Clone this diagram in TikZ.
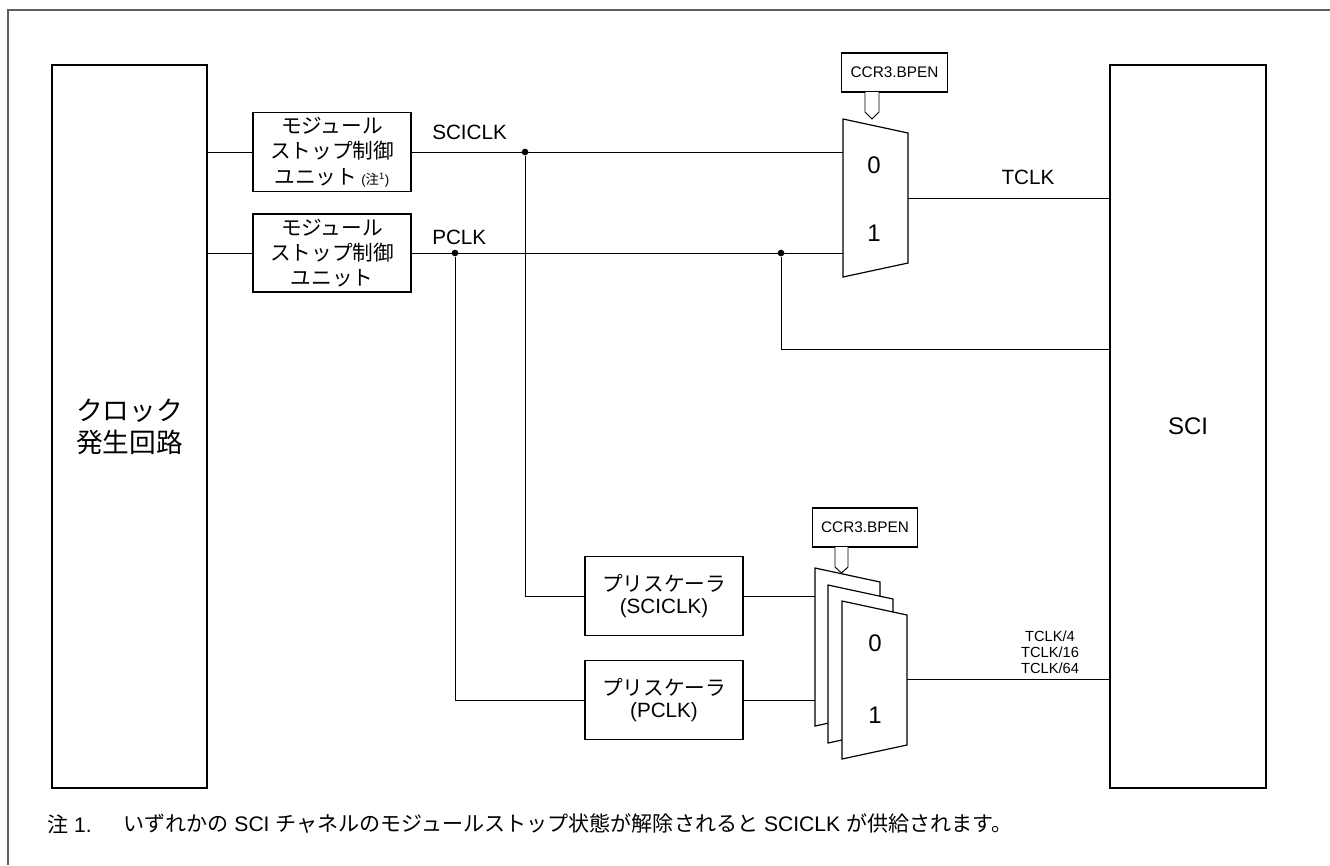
\documentclass[tikz,border=0pt]{standalone}
\usepackage{fontspec}
\setmainfont{Liberation Sans}
\newfontfamily\jp{Noto Sans CJK JP}
\begin{document}
\begin{tikzpicture}[x=0.75pt,y=-0.75pt,
  box/.style={draw, line width=0.9pt, rectangle, inner sep=0pt, fill=white, align=center},
  wire/.style={line width=0.7pt},
  dot/.style={circle, fill=black, inner sep=0pt, minimum size=5pt},
  muxshape/.style={draw, line width=0.9pt, fill=white, line join=miter},
  lbl/.style={inner sep=0pt, font=\fontsize{15.5}{19}\selectfont},
  small/.style={inner sep=0pt, font=\fontsize{11}{12}\selectfont, align=center},
  digit/.style={inner sep=0pt, font=\fontsize{18}{18}\selectfont},
  ctrl/.style={box, minimum width=79pt, minimum height=29.25pt, font=\fontsize{11.5}{12}\selectfont}
]
\useasboundingbox (0,0) rectangle (1330,865);
% outer frame
\draw[line width=1.4pt, gray!75!black] (8,865) -- (8,10) -- (1330,10);

% main blocks
\node[box, minimum width=116.25pt, minimum height=542.25pt, font=\fontsize{20}{24}\selectfont] (clk) at (129.5,426.5) {{\jp クロック}\\{\jp 発生回路}};
\node[box, minimum width=117pt, minimum height=542.25pt, font=\fontsize{18}{22}\selectfont] (sci) at (1188,426.5) {SCI};

\node[box, minimum width=118.5pt, minimum height=59.25pt, font=\fontsize{15.5}{19}\selectfont] (ms1) at (332,152) {{\jp モジュール}\\{\jp ストップ制御}\\{\jp ユニット}\hspace{3pt}{\fontsize{10}{10}\selectfont(}{\jp\fontsize{10}{10}\selectfont 注}{\fontsize{10}{10}\selectfont\textsuperscript{1})}};
\node[box, minimum width=118.5pt, minimum height=58.5pt, font=\fontsize{15.5}{19}\selectfont] (ms2) at (332,253) {{\jp モジュール}\\{\jp ストップ制御}\\{\jp ユニット}};

\node[box, minimum width=118.5pt, minimum height=59.25pt, font=\fontsize{15.5}{16.5}\selectfont] (ps1) at (664,596) {{\jp プリスケーラ}\\(SCICLK)};
\node[box, minimum width=118.5pt, minimum height=59.25pt, font=\fontsize{15.5}{16.5}\selectfont] (ps2) at (664,700) {{\jp プリスケーラ}\\(PCLK)};

% control boxes
\node[ctrl] (cc1) at (894.5,72.5) {CCR3.BPEN};
\node[ctrl] (cc2) at (865,527.5) {CCR3.BPEN};

% top multiplexer
\draw[muxshape] (843,119) -- (908,133) -- (908,263) -- (843,277) -- cycle;
\node[digit] (m0) at (874,165) {0};
\node[digit] (m1) at (874,233) {1};
\coordinate (m0in) at (843,152);
\coordinate (m1in) at (843,253);
\coordinate (mout) at (908,198);
\draw[muxshape, line width=0.7pt] (865,92) -- (865,112) -- (872,119) -- (879,112) -- (879,92);

% stacked multiplexers
\draw[muxshape] (815,568) -- (880,582) -- (880,712) -- (815,726) -- cycle;
\draw[muxshape] (828,585) -- (893,599) -- (893,729) -- (828,743) -- cycle;
\draw[muxshape] (842,601) -- (907,615) -- (907,745) -- (842,759) -- cycle;
\node[digit] (s0) at (875,643) {0};
\node[digit] (s1) at (875,715) {1};
\coordinate (sin0) at (815,596);
\coordinate (sin1) at (815,700);
\coordinate (sout) at (907,679);
\draw[muxshape, line width=0.7pt] (835,547) -- (835,567) -- (841.5,573) -- (848,567) -- (848,547);

% junction dots
\node[dot] (j1) at (525,152) {};
\node[dot] (j2) at (455,253) {};
\node[dot] (j3) at (781,253) {};

% wires
\draw[wire] (clk.east |- ms1.west) -- (ms1.west);
\draw[wire] (clk.east |- ms2.west) -- (ms2.west);
\draw[wire] (ms1.east) -- (m0in);
\draw[wire] (ms2.east) -- (m1in);
\draw[wire] (mout) -- (sci.west |- mout);
\coordinate (tap) at (781,349);
\draw[wire] (j3) -- (tap) -- (sci.west |- tap);
\draw[wire] (j1) |- (ps1.west);
\draw[wire] (j2) |- (ps2.west);
\draw[wire] (ps1.east) -- (sin0);
\draw[wire] (ps2.east) -- (sin1);
\draw[wire] (sout) -- (sci.west |- sout);

% labels
\node[lbl, anchor=west] (lsciclk) at (432,132) {SCICLK};
\node[lbl, anchor=west] (lpclk) at (432,237) {PCLK};
\node[lbl] (ltclk) at (1028,177) {TCLK};
\node[small] (ldiv) at (1050,652) {TCLK/4\\TCLK/16\\TCLK/64};

% note
\node[lbl, anchor=west, font=\fontsize{15.8}{19}\selectfont] (note1) at (47,824) {{\jp 注} 1.};
\node[lbl, anchor=west, font=\fontsize{15.8}{19}\selectfont] (note2) at (123,824) {{\jp いずれかの} SCI {\jp チャネルのモジュールストップ状態が解除されると} SCICLK {\jp が供給されます。}};
\end{tikzpicture}
\end{document}
